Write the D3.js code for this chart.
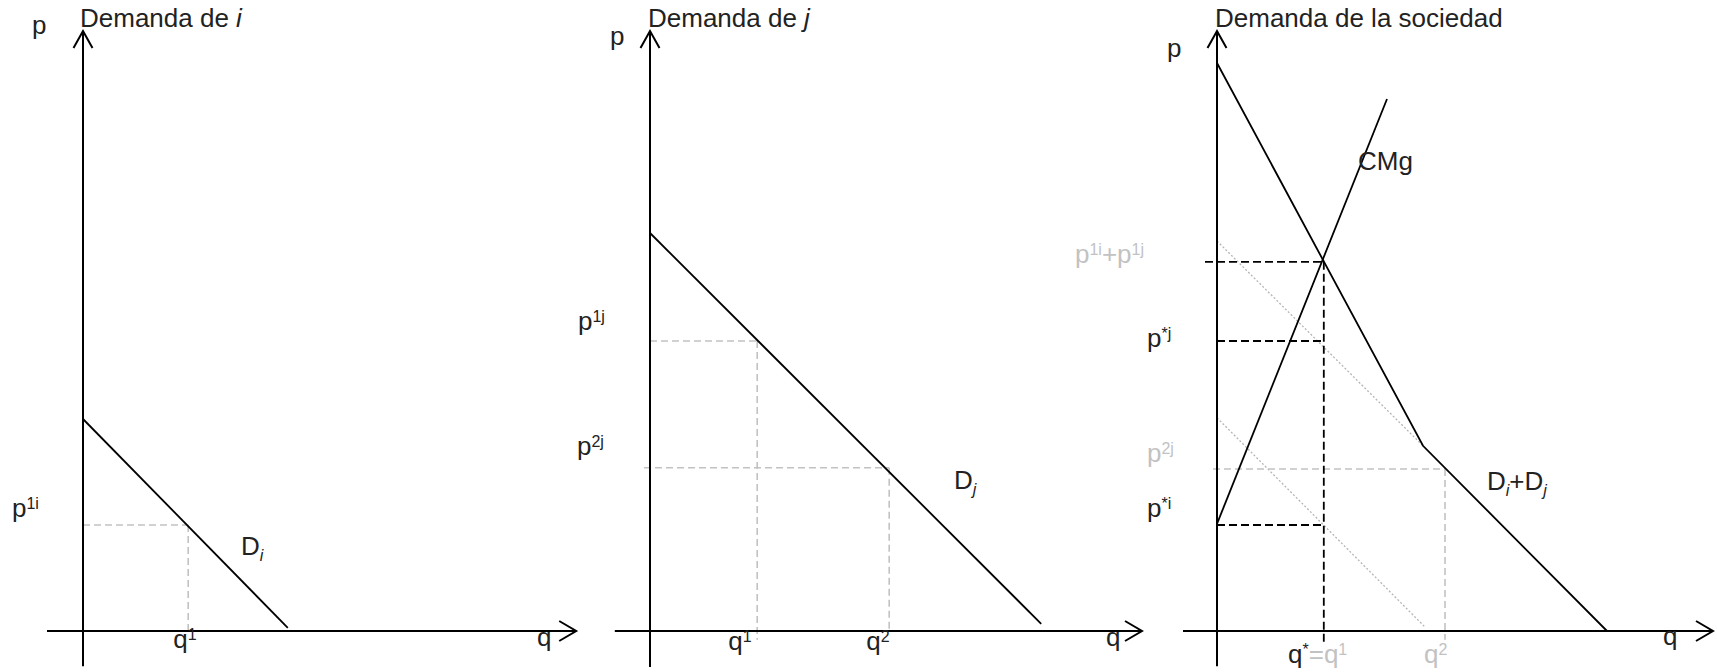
<!DOCTYPE html>
<html>
<head>
<meta charset="utf-8">
<script src="https://cdn.jsdelivr.net/npm/d3@7"></script>
<style>
  html, body { margin: 0; padding: 0; background: #fff; }
  svg { display: block; font-family: "Liberation Sans", Arial, sans-serif; }
</style>
</head>
<body>
<svg id="chart" width="1717" height="672"></svg>
<script>
// values, in quantity / price units
const demandI = [[0, 5.3], [5.12, 0.08]];
const demandJ = [[0, 9.95], [9.78, 0.18]];
const demandSum = [[0, 14.2], [5.15, 4.63], [9.75, 0]];
const sumPartJ = [[0, 9.75], [5.15, 4.63]];
const sumPartI = [[0, 5.33], [5.18, 0.12]];
const marginalCost = [[0, 2.68], [4.25, 13.3]];

const qOneI = 2.63, pOneI = 2.65;
const qOneJ = 2.68, qTwoJ = 5.98, pOneJ = 7.25, pTwoJ = 4.08;
const qStar = 2.67, pStarTotal = 9.23, pStarJ = 7.25, pStarI = 2.65;
const qTwoSoc = 5.7, pTwoSoc = 4.05;

const titles = ['Demanda de ', 'Demanda de ', 'Demanda de la sociedad'];
const titleVars = ['i', 'j', ''];

// layout
const originX = [83, 650, 1217];
const originY = 631;
const unit = 40;
const svg = d3.select('#chart');
const ink = '#222', grey = '#c2c2c2';

const scalesFor = (x0) => ({
  x: d3.scaleLinear().domain([0, 12.5]).range([x0, x0 + 12.5 * unit]),
  y: d3.scaleLinear().domain([0, 15]).range([originY, originY - 15 * unit])
});

const line = (g, s, pts, stroke, width, dash) => {
  g.append('path')
    .attr('d', d3.line().x(d => s.x(d[0])).y(d => s.y(d[1]))(pts))
    .attr('fill', 'none')
    .attr('stroke', stroke)
    .attr('stroke-width', width)
    .attr('stroke-dasharray', dash || null);
};

const richText = (g, x, y, parts) => {
  const t = g.append('text').attr('x', x).attr('y', y).attr('font-size', 26).attr('fill', ink);
  let shift = 0;
  parts.forEach(p => {
    const target = p.sup ? -8 : p.sub ? 6 : 0;
    t.append('tspan')
      .attr('dy', target - shift)
      .attr('font-size', (p.sup || p.sub) ? 16 : 26)
      .attr('font-style', p.it ? 'italic' : null)
      .attr('fill', p.c || ink)
      .text(p.t);
    shift = target;
  });
};

const drawAxes = (g, s, xStart, xEnd, yEnd) => {
  line(g, s, [[0, 15], [0, yEnd]], '#000', 2);
  line(g, s, [[xStart, 0], [xEnd, 0]], '#000', 2);
  const tx = s.x(0), ty = s.y(15);
  g.append('path')
    .attr('d', `M${tx - 9.5},${ty + 17} L${tx},${ty} L${tx + 9.5},${ty + 17}`)
    .attr('fill', 'none').attr('stroke', '#000').attr('stroke-width', 2);
  const ax = s.x(xEnd), ay = s.y(0);
  g.append('path')
    .attr('d', `M${ax - 17},${ay - 10} L${ax},${ay} L${ax - 17},${ay + 10}`)
    .attr('fill', 'none').attr('stroke', '#000').attr('stroke-width', 2);
};

const greyDash = '7,4', blackDash = '8,4', dotted = '2,2';

// ---- panel 1: Demanda de i
let s = scalesFor(originX[0]);
let g = svg.append('g');
line(g, s, [[0, pOneI], [qOneI, pOneI]], grey, 1.6, greyDash);
line(g, s, [[qOneI, pOneI], [qOneI, 0]], grey, 1.6, greyDash);
drawAxes(g, s, -0.9, 12.33, -0.88);
line(g, s, demandI, '#000', 1.8);
richText(g, 80, 27, [{t: titles[0]}, {t: titleVars[0], it: true}]);
richText(g, 32, 34, [{t: 'p'}]);
richText(g, 12, s.y(pOneI) - 8, [{t: 'p'}, {t: '1i', sup: true}]);
richText(g, s.x(qOneI) - 15, 648, [{t: 'q'}, {t: '1', sup: true}]);
richText(g, 241, 555, [{t: 'D'}, {t: 'i', sub: true, it: true}]);
richText(g, 537, 646, [{t: 'q'}]);

// ---- panel 2: Demanda de j
s = scalesFor(originX[1]);
g = svg.append('g');
line(g, s, [[0, pOneJ], [qOneJ, pOneJ]], grey, 1.6, greyDash);
line(g, s, [[qOneJ, pOneJ], [qOneJ, -0.22]], grey, 1.6, greyDash);
line(g, s, [[-0.15, pTwoJ], [qTwoJ, pTwoJ]], grey, 1.6, greyDash);
line(g, s, [[qTwoJ, pTwoJ], [qTwoJ, 0]], grey, 1.6, greyDash);
drawAxes(g, s, -0.88, 12.3, -0.9);
line(g, s, demandJ, '#000', 1.8);
richText(g, 648, 27, [{t: titles[1]}, {t: titleVars[1], it: true}]);
richText(g, 610, 45, [{t: 'p'}]);
richText(g, 578, s.y(pOneJ) - 11, [{t: 'p'}, {t: '1j', sup: true}]);
richText(g, 577, s.y(pTwoJ) - 13, [{t: 'p'}, {t: '2j', sup: true}]);
richText(g, s.x(qOneJ) - 29, 650, [{t: 'q'}, {t: '1', sup: true}]);
richText(g, s.x(qTwoJ) - 23, 650, [{t: 'q'}, {t: '2', sup: true}]);
richText(g, 954, 489, [{t: 'D'}, {t: 'j', sub: true, it: true}]);
richText(g, 1106, 646, [{t: 'q'}]);

// ---- panel 3: Demanda de la sociedad
s = scalesFor(originX[2]);
g = svg.append('g');
line(g, s, sumPartJ, '#b5b5b5', 1.3, dotted);
line(g, s, sumPartI, '#b5b5b5', 1.3, dotted);
line(g, s, [[-0.1, pTwoSoc], [qTwoSoc, pTwoSoc]], grey, 1.6, greyDash);
line(g, s, [[qTwoSoc, pTwoSoc], [qTwoSoc, -0.22]], grey, 1.6, greyDash);
line(g, s, [[-0.3, pStarTotal], [qStar, pStarTotal]], '#000', 1.8, blackDash);
line(g, s, [[0, pStarJ], [qStar, pStarJ]], '#000', 1.8, blackDash);
line(g, s, [[0, pStarI], [qStar, pStarI]], '#000', 1.8, blackDash);
line(g, s, [[qStar, pStarTotal], [qStar, -0.3]], '#000', 1.8, blackDash);
drawAxes(g, s, -0.85, 12.4, -0.88);
line(g, s, demandSum, '#000', 1.8);
line(g, s, marginalCost, '#000', 1.8);
richText(g, 1215, 27, [{t: titles[2]}]);
richText(g, 1167, 57, [{t: 'p'}]);
richText(g, 1358, 170, [{t: 'CMg'}]);
richText(g, 1075, s.y(pStarTotal) + 1, [{t: 'p', c: grey}, {t: '1i', sup: true, c: grey}, {t: '+p', c: grey}, {t: '1j', sup: true, c: grey}]);
richText(g, 1147, s.y(pStarJ) + 6, [{t: 'p'}, {t: '*j', sup: true}]);
richText(g, 1147, s.y(pTwoSoc) - 7, [{t: 'p', c: grey}, {t: '2j', sup: true, c: grey}]);
richText(g, 1147, s.y(pStarI) - 8, [{t: 'p'}, {t: '*i', sup: true}]);
richText(g, 1487, 490, [{t: 'D'}, {t: 'i', sub: true, it: true}, {t: '+D'}, {t: 'j', sub: true, it: true}]);
richText(g, 1288, 663, [{t: 'q'}, {t: '*', sup: true}, {t: '=q', c: grey}, {t: '1', sup: true, c: grey}]);
richText(g, s.x(qTwoSoc) - 21, 663, [{t: 'q', c: grey}, {t: '2', sup: true, c: grey}]);
richText(g, 1663, 645, [{t: 'q'}]);
</script>
</body>
</html>
